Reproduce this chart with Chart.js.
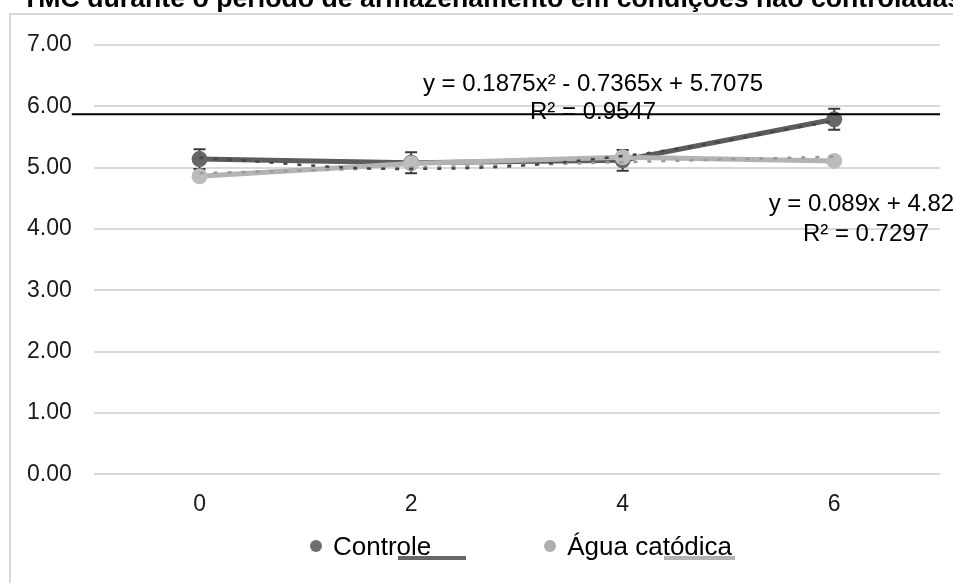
<!DOCTYPE html>
<html>
<head>
<meta charset="utf-8">
<script src="https://cdn.jsdelivr.net/npm/chart.js@4.4.1/dist/chart.umd.min.js"></script>
<style>
  html, body { margin: 0; padding: 0; background: #fff; overflow: hidden; }
  #wrap { position: absolute; left: 0; top: 0; width: 953px; height: 583px; }
  #legend { position: absolute; left: 310px; top: 531px; display: flex; gap: 113px;
            font-family: 'Liberation Sans', Arial, sans-serif; font-size: 26px; color: #000; line-height: 30px; }
  .item { position: relative; display: flex; align-items: center; }
  .dot { width: 12px; height: 12px; border-radius: 50%; margin-right: 11px; }
  .bar { position: absolute; top: 25px; height: 4px; }
</style>
</head>
<body>
<div id="wrap"><canvas id="chart"></canvas></div>
<div id="legend"></div>
<script>
// data
const categories = ['0', '2', '4', '6'];
const controle = [5.14, 5.08, 5.12, 5.79];
const controleErr = [0.16, 0.17, 0.17, 0.17];
const agua = [4.86, 5.07, 5.17, 5.11];
// trendlines as they appear (dotted)
const controleTrend = [5.16, 4.98, 5.19, 5.76];
const aguaTrend = [4.91, 5.00, 5.09, 5.18];
const equations = ['y = 0.1875x² - 0.7365x + 5.7075', 'R² = 0.9547', 'y = 0.089x + 4.82', 'R² = 0.7297'];
const chartTitle = 'TMC durante o período de armazenamento em condições não controladas';
const seriesNames = ['Controle', 'Água catódica'];

const FONT = "'Liberation Sans', Arial, sans-serif";
const DARK = '#5c5c5c';
const LIGHT = '#b3b3b3';

// frame + title (title is wider than the chart, so no maxWidth squeeze)
const framePlugin = {
  id: 'frame',
  beforeDraw(chart) {
    const ctx = chart.ctx;
    ctx.save();
    ctx.strokeStyle = '#d9d9d9';
    ctx.lineWidth = 2;
    ctx.strokeRect(10, 14, 1000, 1000);
    ctx.restore();
  },
  afterDraw(chart) {
    const ctx = chart.ctx;
    ctx.save();
    ctx.font = 'bold 26.7px ' + FONT;
    ctx.fillStyle = '#000';
    ctx.textBaseline = 'alphabetic';
    ctx.fillText(chartTitle, 22, 7);
    ctx.restore();
  }
};

const errorBarPlugin = {
  id: 'errorBars',
  beforeDatasetsDraw(chart) {
    const ctx = chart.ctx;
    const yScale = chart.scales.y;
    chart.data.datasets.forEach((ds, i) => {
      if (!ds.errors) return;
      const meta = chart.getDatasetMeta(i);
      ctx.save();
      ctx.strokeStyle = '#3a3a3a';
      ctx.lineWidth = 2;
      meta.data.forEach((pt, j) => {
        const top = yScale.getPixelForValue(ds.data[j] + ds.errors[j]);
        const bot = yScale.getPixelForValue(ds.data[j] - ds.errors[j]);
        ctx.beginPath();
        ctx.moveTo(pt.x, top); ctx.lineTo(pt.x, bot);
        ctx.moveTo(pt.x - 6, top); ctx.lineTo(pt.x + 6, top);
        ctx.moveTo(pt.x - 6, bot); ctx.lineTo(pt.x + 6, bot);
        ctx.stroke();
      });
      ctx.restore();
    });
  }
};

const labelPlugin = {
  id: 'trendLabels',
  afterDatasetsDraw(chart, args, opts) {
    const ctx = chart.ctx;
    const xs = chart.scales.x, ys = chart.scales.y;
    ctx.save();
    ctx.font = '24px ' + FONT;
    ctx.fillStyle = '#000';
    ctx.textBaseline = 'middle';
    opts.items.forEach(it => {
      ctx.textAlign = it.align;
      ctx.fillText(equations[it.i], xs.getPixelForValue(it.x), ys.getPixelForValue(it.y));
    });
    // stray black line across the plot
    const ly = ys.getPixelForValue(opts.lineValue);
    ctx.strokeStyle = '#000';
    ctx.lineWidth = 2;
    ctx.beginPath();
    ctx.moveTo(chart.chartArea.left - 22, ly);
    ctx.lineTo(chart.chartArea.right, ly);
    ctx.stroke();
    ctx.restore();
  }
};

const chart = new Chart(document.getElementById('chart'), {
  type: 'line',
  data: {
    labels: categories,
    datasets: [
      {
        label: seriesNames[0] + ' trend',
        data: controleTrend,
        borderColor: '#454545',
        borderWidth: 2.5,
        borderDash: [4, 10],
        pointRadius: 0,
        tension: 0.4,
        order: 0
      },
      {
        label: seriesNames[1] + ' trend',
        data: aguaTrend,
        borderColor: '#9a9a9a',
        borderWidth: 2.5,
        borderDash: [4, 10],
        pointRadius: 0,
        tension: 0,
        order: 0
      },
      {
        label: seriesNames[1],
        data: agua,
        borderColor: LIGHT,
        backgroundColor: '#bcbcbc',
        borderWidth: 5,
        pointRadius: 8,
        pointBorderWidth: 0,
        tension: 0,
        order: 1
      },
      {
        label: seriesNames[0],
        data: controle,
        errors: controleErr,
        borderColor: DARK,
        backgroundColor: '#666666',
        borderWidth: 5,
        pointRadius: 8,
        pointBorderWidth: 0,
        tension: 0,
        order: 2
      }
    ]
  },
  options: {
    responsive: true,
    maintainAspectRatio: false,
    animation: false,
    layout: { padding: { left: 5, right: 13, top: 45, bottom: 57 } },
    plugins: {
      legend: { display: false },
      title: { display: false },
      tooltip: { enabled: false },
      trendLabels: {
        lineValue: 5.87,
        items: [
          { i: 0, x: 1.86, y: 6.36, align: 'center' },
          { i: 1, x: 1.86, y: 5.90, align: 'center' },
          { i: 2, x: 2.69, y: 4.40, align: 'left' },
          { i: 3, x: 3.15, y: 3.92, align: 'center' }
        ]
      }
    },
    scales: {
      x: {
        offset: true,
        grid: { display: false },
        border: { display: false },
        ticks: { color: '#1a1a1a', font: { family: FONT, size: 23 }, padding: 8 }
      },
      y: {
        min: 0,
        max: 7,
        grid: { color: '#d9d9d9', lineWidth: 2, drawTicks: false },
        border: { display: false },
        ticks: {
          stepSize: 1,
          padding: 22,
          color: '#1a1a1a',
          font: { family: FONT, size: 23 },
          callback: v => Number(v).toFixed(2)
        }
      }
    }
  },
  plugins: [framePlugin, errorBarPlugin, labelPlugin]
});

// legend, including the offset trendline swatches seen under the names
const legendEl = document.getElementById('legend');
const legendItems = [
  { name: seriesNames[0], dot: '#6e6e6e', bar: '#676767', barLeft: 88, barWidth: 68 },
  { name: seriesNames[1], dot: '#b0adad', bar: '#b3b3b3', barLeft: 120, barWidth: 71 }
];
legendItems.forEach(it => {
  const item = document.createElement('div');
  item.className = 'item';
  item.innerHTML = '<span class="dot" style="background:' + it.dot + '"></span><span>' + it.name + '</span>' +
    '<span class="bar" style="left:' + it.barLeft + 'px;width:' + it.barWidth + 'px;background:' + it.bar + '"></span>';
  legendEl.appendChild(item);
});
</script>
</body>
</html>
